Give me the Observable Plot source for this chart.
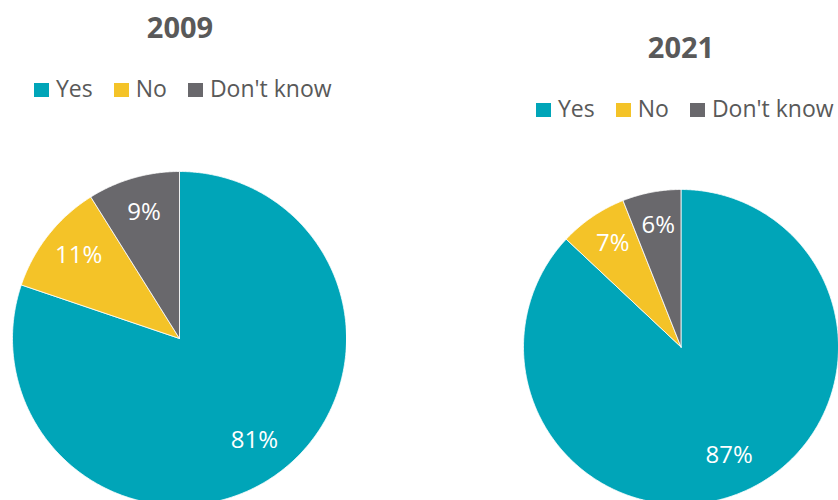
<!DOCTYPE html>
<html>
<head>
<meta charset="utf-8">
<script src="https://cdn.jsdelivr.net/npm/d3@7"></script>
<script src="https://cdn.jsdelivr.net/npm/@observablehq/plot@0.6"></script>
<style>
  html, body { margin: 0; padding: 0; background: #fff; }
  #root { position: relative; width: 838px; height: 500px; overflow: hidden; font-family: "Open Sans", sans-serif; color: #595959; }
  .title { position: absolute; width: 200px; text-align: center; font-weight: 700; font-size: 29px; line-height: 29px; }
  .legend { position: absolute; display: flex; align-items: center; font-size: 23px; line-height: 23px; white-space: nowrap; }
  .item { display: flex; align-items: center; margin-right: 21px; }
  .sw { width: 15px; height: 14px; margin-right: 7px; position: relative; top: 1px; }
  .pie { position: absolute; }
</style>
</head>
<body>
<div id="root"></div>
<script>
const categories = ["Yes", "No", "Don't know"];
const colors = ["#00A5B8", "#F4C328", "#69686C"];
const years = ["2009", "2021"];
const values2009 = [81, 11, 9];
const values2021 = [87, 7, 6];

const layout = [
  {title: {left: 80, top: 12}, legend: {left: 34, top: 77}, pie: {left: 12, top: 171, size: 334}},
  {title: {left: 581, top: 32}, legend: {left: 536, top: 97}, pie: {left: 523, top: 189, size: 316}}
];

const root = document.getElementById("root");

function pieChart(values, size) {
  const total = d3.sum(values);
  let acc = 0;
  const pts = [];
  const labels = [];
  values.forEach((v, i) => {
    const answer = categories[i];
    const a0 = acc / total * 2 * Math.PI;
    acc += v;
    const a1 = acc / total * 2 * Math.PI;
    pts.push({answer, x: 0, y: 0});
    const n = Math.max(2, Math.ceil((a1 - a0) / (Math.PI / 360)));
    for (let k = 0; k <= n; k++) {
      const a = a0 + (a1 - a0) * k / n;
      pts.push({answer, x: Math.sin(a), y: Math.cos(a)});
    }
    pts.push({answer, x: 0, y: 0});
    const am = (a0 + a1) / 2;
    labels.push({x: 0.77 * Math.sin(am), y: 0.77 * Math.cos(am), text: v + "%"});
  });
  return Plot.plot({
    width: size, height: size, margin: 0,
    style: {fontFamily: "Open Sans", background: "transparent"},
    x: {domain: [-1, 1], axis: null},
    y: {domain: [-1, 1], axis: null},
    color: {domain: categories, range: colors},
    marks: [
      Plot.line(pts, {x: "x", y: "y", z: "answer", fill: "answer", stroke: "white", strokeWidth: 0.8, curve: "linear"}),
      Plot.text(labels, {x: "x", y: "y", text: "text", fill: "white", fontSize: 24, dy: -3})
    ]
  });
}

[values2009, values2021].forEach((vals, j) => {
  const L = layout[j];
  const t = document.createElement("div");
  t.className = "title";
  t.style.left = L.title.left + "px";
  t.style.top = L.title.top + "px";
  t.textContent = years[j];
  root.appendChild(t);

  const lg = document.createElement("div");
  lg.className = "legend";
  lg.style.left = L.legend.left + "px";
  lg.style.top = L.legend.top + "px";
  categories.forEach((c, i) => {
    const it = document.createElement("div");
    it.className = "item";
    const sw = document.createElement("div");
    sw.className = "sw";
    sw.style.background = colors[i];
    const sp = document.createElement("span");
    sp.textContent = c;
    it.appendChild(sw);
    it.appendChild(sp);
    lg.appendChild(it);
  });
  root.appendChild(lg);

  const p = pieChart(vals, L.pie.size);
  const wrap = document.createElement("div");
  wrap.className = "pie";
  wrap.style.left = L.pie.left + "px";
  wrap.style.top = L.pie.top + "px";
  wrap.appendChild(p);
  root.appendChild(wrap);
});
</script>
</body>
</html>
